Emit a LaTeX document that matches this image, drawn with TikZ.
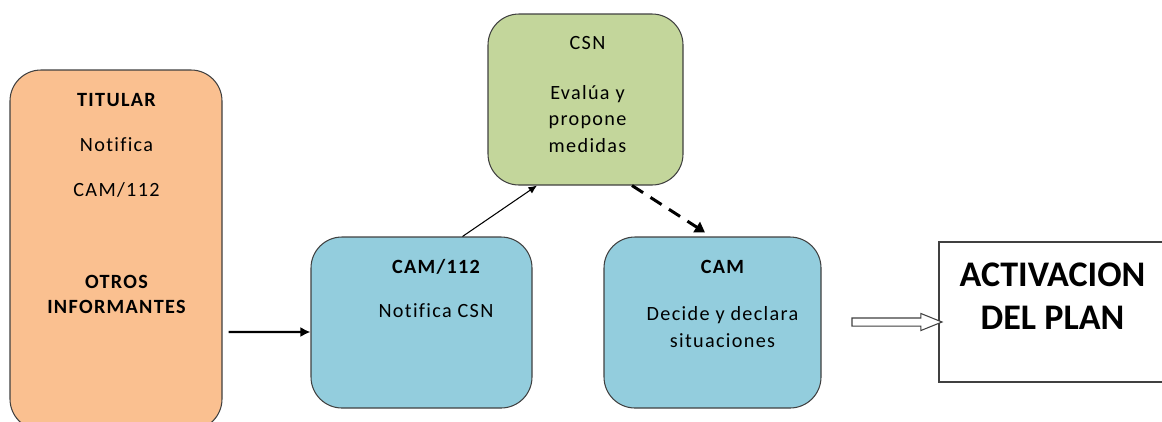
\documentclass[tikz,border=0pt]{standalone}
\usepackage{fontspec}
\setmainfont{Carlito}
\newfontfamily\boxfont{Carlito}[LetterSpace=6.5, Ligatures=NoCommon]
\usetikzlibrary{shapes.arrows,arrows.meta}

\definecolor{titularfill}{HTML}{FAC090}
\definecolor{csnfill}{HTML}{C3D69B}
\definecolor{camfill}{HTML}{93CDDD}
\definecolor{edgegray}{HTML}{404040}

\begin{document}
\begin{tikzpicture}[
    box/.style={draw=edgegray, line width=0.6pt, rounded corners=0.62cm, inner sep=0pt},
    txt/.style={font=\boxfont\fontsize{11.5}{15}\selectfont, align=center, inner sep=0pt},
    btxt/.style={txt, font=\boxfont\fontsize{11.5}{14.2}\selectfont\bfseries}
  ]
  \useasboundingbox (0,0) rectangle (23.24,-8.42);

  % Boxes
  \node[box, fill=titularfill, minimum width=4.24cm, minimum height=7.2cm] (titular) at (2.32,-5.0) {};
  \node[box, fill=csnfill, minimum width=3.9cm, minimum height=3.42cm] (csn) at (11.71,-1.99) {};
  \node[box, fill=camfill, minimum width=4.42cm, minimum height=3.42cm] (cam112) at (8.43,-6.45) {};
  \node[box, fill=camfill, minimum width=4.34cm, minimum height=3.42cm] (cam) at (14.25,-6.45) {};
  \node[draw=edgegray, line width=0.6pt, fill=white, minimum width=4.82cm, minimum height=2.8cm] (plan) at (21.19,-6.24) {};

  % Texts of the boxes
  \node[btxt] (titulartitle) at (2.33,-2.0) {TITULAR};
  \node[txt] (titularnotif) at (2.33,-2.9) {Notifica};
  \node[txt] (titularcam) at (2.33,-3.8) {CAM/112};
  \node[btxt] (otros) at (2.33,-5.89) {OTROS\\INFORMANTES};

  \node[txt] (csntitle) at (11.75,-0.86) {CSN};
  \node[txt] (csntext) at (11.75,-2.38) {Evalúa y\\propone\\medidas};

  \node[btxt] (cam112title) at (8.72,-5.34) {CAM/112};
  \node[txt] (cam112text) at (8.72,-6.22) {Notifica CSN};

  \node[btxt] (camtitle) at (14.45,-5.34) {CAM};
  \node[txt] (camtext) at (14.45,-6.54) {Decide y declara\\situaciones};

  \node[txt, font=\fontsize{20.5}{24.4}\selectfont\bfseries] (plantext) at (21.05,-5.93) {ACTIVACION\\DEL PLAN};

  % Hollow arrow to the plan
  \node[single arrow, draw=edgegray, line width=0.6pt, fill=white, inner sep=0.07cm,
        minimum height=1.8cm, single arrow head extend=0.09cm, single arrow tip angle=44] (toplan) at (17.84,-6.44) {};

  % Connectors
  \draw[line width=1.2pt, -{Latex[length=0.2cm,width=0.2cm]}]
    ([xshift=0.12cm,yshift=-1.64cm]titular.east) -- ([yshift=-0.19cm]cam112.west);
  \draw[line width=0.6pt, -{Latex[length=0.17cm,width=0.15cm]}]
    ([xshift=0.82cm]cam112.north) -- ([xshift=-0.97cm]csn.south);
  \draw[line width=1.7pt, dash pattern=on 7.5pt off 5pt, -{Triangle[length=0.2cm,width=0.24cm]}]
    ([xshift=0.93cm]csn.south) -- ([xshift=-0.15cm,yshift=0.08cm]cam.north);
\end{tikzpicture}
\end{document}
